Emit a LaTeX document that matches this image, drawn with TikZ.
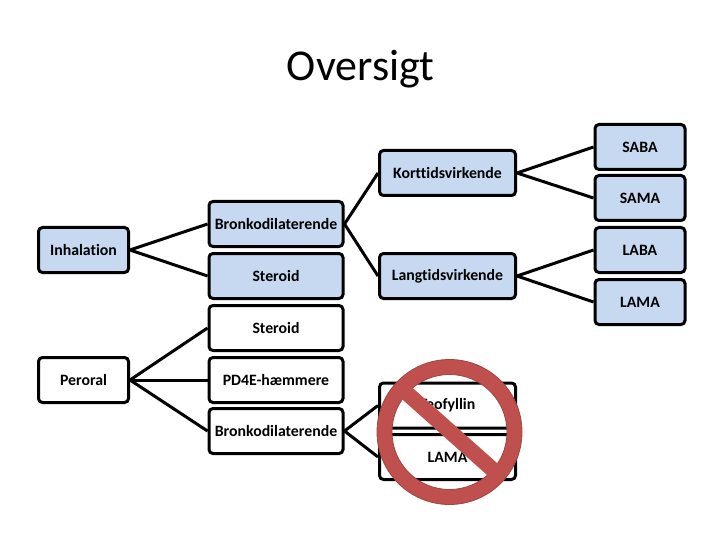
\documentclass[tikz,border=0pt]{standalone}
\usepackage{fontspec}
\setmainfont[Ligatures=NoCommon]{Carlito}
\begin{document}
\begin{tikzpicture}[x=1pt,y=-1pt,
  bx/.style={draw=black,line width=3pt,rounded corners=4pt,anchor=center,inner sep=0pt,font=\fontsize{15.8}{18}\selectfont\bfseries},
  blue/.style={bx,fill=boxblue},
  white/.style={bx,fill=white},
  link/.style={draw=black,line width=3pt}]
\definecolor{boxblue}{HTML}{C6D9F1}
\definecolor{ban}{HTML}{C0504D}
\definecolor{banedge}{HTML}{A04542}
\useasboundingbox (0,0) rectangle (720,540);
\node (title) at (360.5,69) {\fontsize{44}{48}\selectfont Oversigt};
\node[blue,minimum width=90pt,minimum height=45pt] (inh) at (83.5,250) {Inhalation};
\node[blue,minimum width=134pt,minimum height=45pt] (bron) at (276,224) {Bronkodilaterende};
\node[blue,minimum width=134pt,minimum height=45pt] (ster) at (276,276) {Steroid};
\node[blue,minimum width=136pt,minimum height=45pt] (kort) at (447.5,173) {Korttidsvirkende};
\node[blue,minimum width=136pt,minimum height=45pt] (lang) at (447.5,276) {Langtidsvirkende};
\node[blue,minimum width=90pt,minimum height=45pt] (saba) at (640,147) {SABA};
\node[blue,minimum width=90pt,minimum height=45pt] (sama) at (640,198) {SAMA};
\node[blue,minimum width=90pt,minimum height=45pt] (laba) at (640,250) {LABA};
\node[blue,minimum width=90pt,minimum height=45pt] (lama) at (640,302) {LAMA};
\node[white,minimum width=90pt,minimum height=45pt] (per) at (83.5,380) {Peroral};
\node[white,minimum width=134pt,minimum height=45pt] (ster2) at (276,328) {Steroid};
\node[white,minimum width=134pt,minimum height=45pt] (pde) at (276,380) {PD4E-hæmmere};
\node[white,minimum width=134pt,minimum height=45pt] (bron2) at (276,431) {Bronkodilaterende};
\node[white,minimum width=136pt,minimum height=45pt] (teo) at (447.5,405.5) {Teofyllin};
\node[white,minimum width=136pt,minimum height=45pt] (lama2) at (447.5,457) {LAMA};
\draw[link] (inh.east) -- (bron.west);
\draw[link] (inh.east) -- (ster.west);
\draw[link] (bron.east) -- (kort.west);
\draw[link] (bron.east) -- (lang.west);
\draw[link] (kort.east) -- (saba.west);
\draw[link] (kort.east) -- (sama.west);
\draw[link] (lang.east) -- (laba.west);
\draw[link] (lang.east) -- (lama.west);
\draw[link] (per.east) -- (ster2.west);
\draw[link] (per.east) -- (pde.west);
\draw[link] (per.east) -- (bron2.west);
\draw[link] (bron2.east) -- (teo.west);
\draw[link] (bron2.east) -- (lama2.west);
\fill[ban,draw=banedge,line width=0.8pt,even odd rule] (449.5,432) circle[radius=72.5] (449.5,432) circle[radius=57.5];
\fill[ban] (409,384.7) -- (503,468.3) -- (493,480.3) -- (397,394.7) -- cycle;
\end{tikzpicture}
\end{document}
